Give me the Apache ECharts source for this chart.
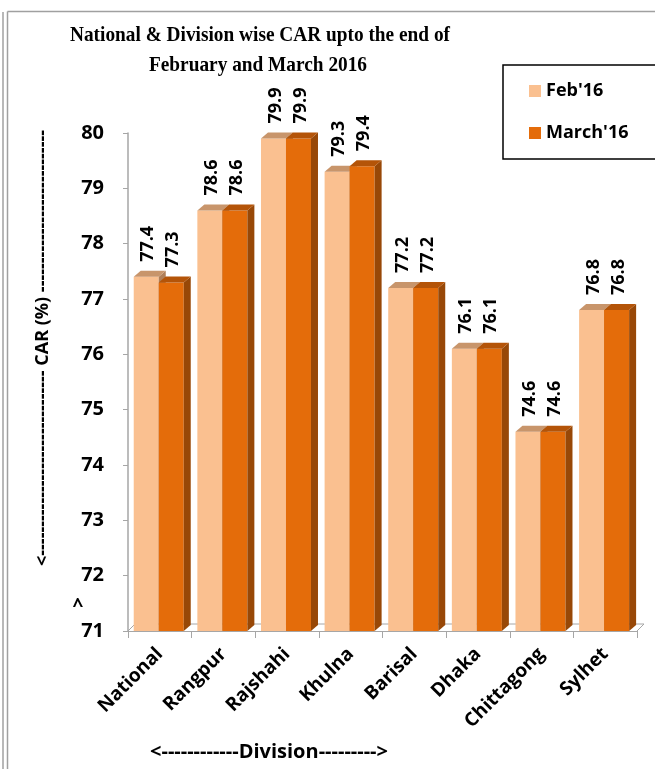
<!DOCTYPE html>
<html><head><meta charset="utf-8">
<script src="https://cdn.jsdelivr.net/npm/echarts@6/dist/echarts.min.js"></script>
<style>html,body{margin:0;padding:0;background:#fff}#c{width:655px;height:769px}</style>
</head><body><div id="c"></div>
<script>
const categories = ['National','Rangpur','Rajshahi','Khulna','Barisal','Dhaka','Chittagong','Sylhet'];
const febValues = [77.4,78.6,79.9,79.3,77.2,76.1,74.6,76.8];
const marValues = [77.3,78.6,79.9,79.4,77.2,76.1,74.6,76.8];
const seriesNames = ["Feb'16","March'16"];
const yTicks = {min:71, max:80, interval:1};

const FONT = '"Open Sans"';
const febColors = {front:'#FAC090', top:'#C8956B', side:'#B07F58'};
const marColors = {front:'#E46C0A', top:'#B45408', side:'#984807'};

function makeRender(sIdx, col){
  return function(params, api){
    const i = api.value(0), v = api.value(1);
    const c = api.coord([i, v]);
    const b = api.coord([i, yTicks.min]);
    const bw = api.size([1,0])[0];
    const w = bw*0.393;
    const x0 = c[0] - bw*0.41 + sIdx*w;
    const dx = 7, dy = 6;
    const top = c[1], base = b[1];
    return {type:'group', children:[
      {type:'rect', shape:{x:x0, y:top, width:w, height:base-top}, style:{fill:col.front}},
      {type:'polygon', shape:{points:[[x0+w,top],[x0+w+dx,top-dy],[x0+w+dx,base-dy],[x0+w,base]]}, style:{fill:col.side}},
      {type:'polygon', shape:{points:[[x0,top],[x0+dx,top-dy],[x0+w+dx,top-dy],[x0+w,top]]}, style:{fill:col.top}},
      {type:'text', x:x0+w/2+2, y:top-dy-9, rotation:Math.PI/2,
        style:{text:v.toFixed(1), x:0, y:0, align:'left', verticalAlign:'middle', fill:'#000',
          font:'bold 18px '+FONT}}
    ]};
  };
}

function renderFloor(params, api){
  const n = categories.length;
  const p0 = api.coord([0, yTicks.min]);
  const bw = api.size([1,0])[0];
  const xl = p0[0] - bw/2, xr = xl + bw*n, y = p0[1];
  const dx = 7, dy = 7;
  return {type:'polyline', shape:{points:[[xl,y],[xl+dx,y-dy],[xr+dx,y-dy],[xr,y]]},
    style:{stroke:'#A6A6A6', lineWidth:1, fill:null}};
}

const chart = echarts.init(document.getElementById('c'));
chart.setOption({
  backgroundColor:'#fff',
  animation:false,
  grid:{left:128, right:18, top:133, bottom:138},
  legend:{
    data:seriesNames, orient:'vertical', left:503, top:65,
    padding:[17,60,17,26], itemGap:24, itemWidth:12, itemHeight:12, icon:'rect',
    borderColor:'#000', borderWidth:1.5,
    textStyle:{fontFamily:'Open Sans', fontWeight:'bold', fontSize:18, color:'#000'}
  },
  xAxis:{
    type:'category', data:categories,
    axisLine:{show:true, lineStyle:{color:'#A6A6A6', width:1}},
    axisTick:{show:true, length:7, lineStyle:{color:'#A6A6A6'}},
    axisLabel:{rotate:45, interval:0, margin:20, color:'#000', fontFamily:'Open Sans', fontWeight:'bold', fontSize:19}
  },
  yAxis:{
    type:'value', min:yTicks.min, max:yTicks.max, interval:yTicks.interval,
    splitLine:{show:false},
    axisLine:{show:true, lineStyle:{color:'#A6A6A6', width:1.5}},
    axisTick:{show:true, length:5, lineStyle:{color:'#A6A6A6'}},
    axisLabel:{margin:24, color:'#000', fontFamily:'Open Sans', fontWeight:'bold', fontSize:20}
  },
  series:[
    {type:'custom', name:'floor', renderItem:renderFloor, data:[[0, yTicks.min]], silent:true, z:1},
    {type:'custom', name:seriesNames[0], itemStyle:{color:febColors.front}, renderItem:makeRender(0, febColors),
      data:febValues.map((v,i)=>[i,v]), encode:{x:0,y:1}, z:2},
    {type:'custom', name:seriesNames[1], itemStyle:{color:marColors.front}, renderItem:makeRender(1, marColors),
      data:marValues.map((v,i)=>[i,v]), encode:{x:0,y:1}, z:3}
  ],
  graphic:[
    {type:'line', shape:{x1:7.5,y1:11.5,x2:655,y2:11.5}, style:{stroke:'#A0A0A0', lineWidth:1.5}},
    {type:'line', shape:{x1:7.5,y1:11.5,x2:7.5,y2:769}, style:{stroke:'#A0A0A0', lineWidth:1.5}},
    {type:'line', shape:{x1:3,y1:12,x2:3,y2:769}, style:{stroke:'#A0A0A0', lineWidth:1.5}},
    {type:'text', x:260, y:36, scaleX:0.92, style:{text:'National & Division wise CAR upto the end of', align:'center', verticalAlign:'middle',
      font:'bold 21px "Liberation Serif"', fill:'#000'}},
    {type:'text', x:258, y:66, scaleX:0.92, style:{text:'February and March 2016', align:'center', verticalAlign:'middle',
      font:'bold 21px "Liberation Serif"', fill:'#000'}},
    {type:'text', x:43, y:348, rotation:Math.PI/2, style:{text:'<-------------------------------- CAR (%) ----------------------------', align:'center', verticalAlign:'middle',
      font:'bold 18px '+FONT, fill:'#000'}},
    {type:'text', x:78, y:607, style:{text:'^', align:'center', verticalAlign:'middle', font:'bold 19px '+FONT, fill:'#000'}},
    {type:'text', x:269, y:752, style:{text:'<------------Division--------->', align:'center', verticalAlign:'middle',
      font:'bold 20px '+FONT, fill:'#000'}}
  ]
});
</script></body></html>
